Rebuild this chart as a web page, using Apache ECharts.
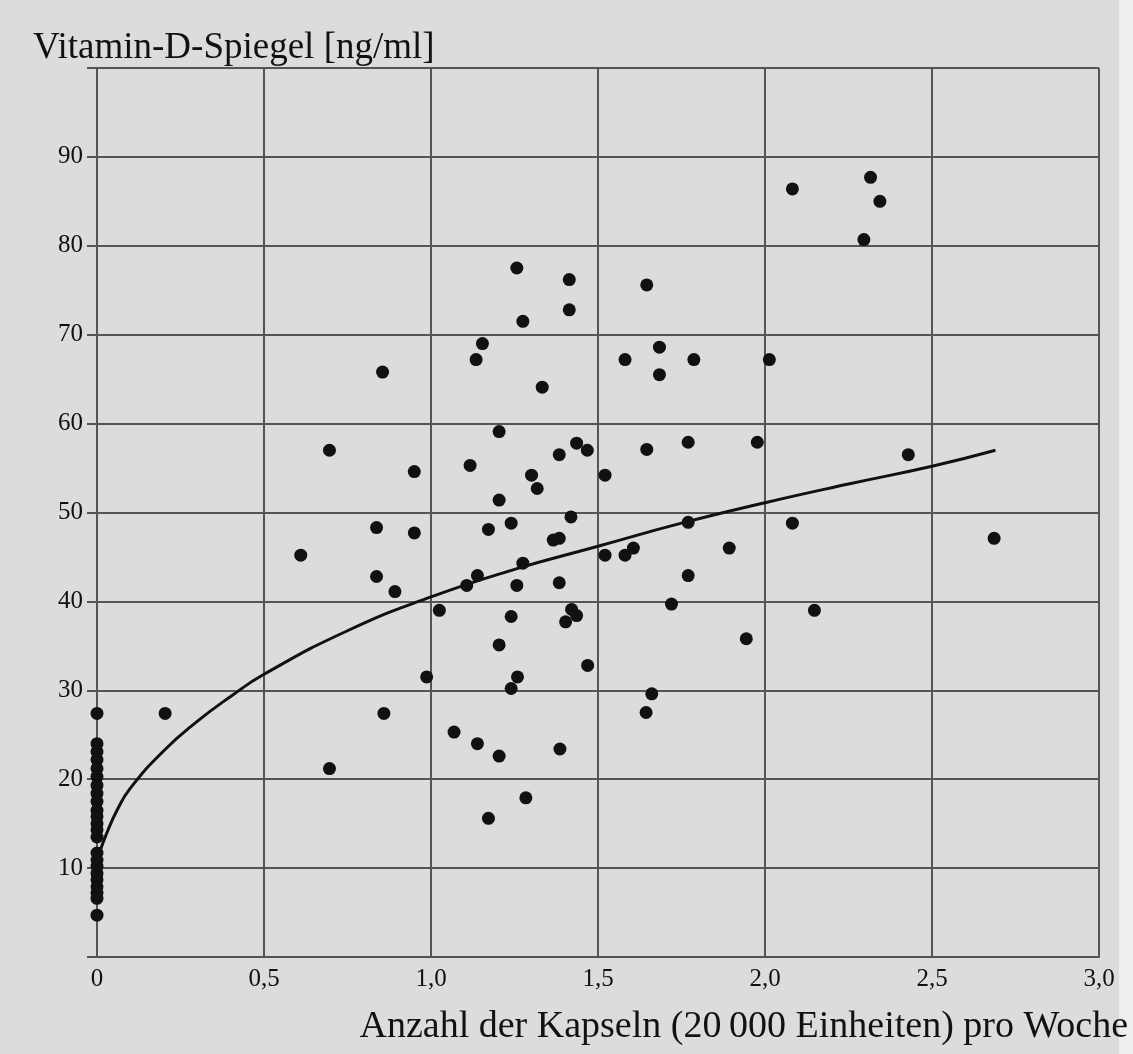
<!DOCTYPE html>
<html>
<head>
<meta charset="utf-8">
<script src="https://cdn.jsdelivr.net/npm/echarts@6/dist/echarts.min.js"></script>
<style>
    html, body { margin: 0; padding: 0; background: #dcdcdc; }
    #chart { width: 1133px; height: 1054px; }
</style>
</head>
<body>
<div id="chart"></div>
<script>
// Werte bei 0 Kapseln (Spalte am linken Rand)
var zeroDoseLevels = [27.4, 24.0, 23.1, 22.2, 21.2, 20.3, 19.3, 18.4, 17.5, 16.5, 15.8, 15.0,
    14.3, 13.5, 11.7, 10.9, 10.2, 9.4, 8.7, 7.9, 7.2, 6.6, 4.7];

// übrige Messpunkte: Kapseln pro Woche / Spiegel
var doses = [0.204, 0.610, 0.696, 0.696, 0.837, 0.837, 0.855, 0.859, 0.892, 0.950, 0.950, 0.987,
    1.025, 1.069, 1.107, 1.117, 1.135, 1.139, 1.139, 1.154, 1.172, 1.172, 1.204, 1.204,
    1.204, 1.204, 1.240, 1.240, 1.240, 1.257, 1.257, 1.259, 1.275, 1.275, 1.284, 1.301,
    1.318, 1.333, 1.366, 1.384, 1.384, 1.384, 1.386, 1.403, 1.414, 1.414, 1.419, 1.421,
    1.436, 1.436, 1.468, 1.469, 1.521, 1.521, 1.581, 1.581, 1.606, 1.646, 1.646, 1.644,
    1.661, 1.684, 1.684, 1.720, 1.770, 1.770, 1.770, 1.787, 1.893, 1.944, 1.977, 2.013,
    2.082, 2.082, 2.148, 2.296, 2.316, 2.344, 2.429, 2.686];
var levels = [27.4, 45.2, 57.0, 21.2, 48.3, 42.8, 65.8, 27.4, 41.1, 54.6, 47.7, 31.5,
    39.0, 25.3, 41.8, 55.3, 67.2, 42.9, 24.0, 69.0, 48.1, 15.6, 59.1, 51.4,
    35.1, 22.6, 48.8, 38.3, 30.2, 77.5, 41.8, 31.5, 71.5, 44.3, 17.9, 54.2,
    52.7, 64.1, 46.9, 47.1, 56.5, 42.1, 23.4, 37.7, 76.2, 72.8, 49.5, 39.1,
    38.4, 57.8, 57.0, 32.8, 54.2, 45.2, 67.2, 45.2, 46.0, 75.6, 57.1, 27.5,
    29.6, 68.6, 65.5, 39.7, 57.9, 48.9, 42.9, 67.2, 46.0, 35.8, 57.9, 67.2,
    86.4, 48.8, 39.0, 80.7, 87.7, 85.0, 56.5, 47.1];

var curveDose  = [0, 0.01, 0.03, 0.06, 0.1, 0.2, 0.3, 0.4, 0.5, 0.75, 1.0, 1.25, 1.5, 1.75, 2.0, 2.25, 2.5, 2.69];
var curveLevel = [10.5, 12.0, 14.0, 16.5, 19.0, 23.2, 26.5, 29.3, 31.8, 36.7, 40.5, 43.6, 46.2, 48.8, 51.1, 53.2, 55.2, 57.0];

var SERIF = 'Liberation Serif';
var LINE = '#555';
var INK = '#111';

var chart = echarts.init(document.getElementById('chart'));

var dots = zeroDoseLevels.map(function (v) { return [0, v]; });
for (var i = 0; i < doses.length; i++) {
    dots.push([doses[i], levels[i]]);
}
var curve = curveDose.map(function (d, i) { return [d, curveLevel[i]]; });

chart.setOption({
    backgroundColor: '#dcdcdc',
    animation: false,
    title: [{
        text: 'Vitamin-D-Spiegel [ng/ml]',
        left: 33, top: 30, padding: 0,
        textStyle: { fontFamily: SERIF, fontSize: 37, fontWeight: 'normal', color: INK }
    }, {
        text: 'Anzahl der Kapseln (20\u2009000 Einheiten) pro Woche',
        right: 5, top: 1008, padding: 0,
        textStyle: { fontFamily: SERIF, fontSize: 38, fontWeight: 'normal', color: INK }
    }],
    graphic: [{
        type: 'rect', left: 1119, top: 0, silent: true,
        shape: { width: 14, height: 1054 },
        style: { fill: '#efefef' }
    }],
    grid: { left: 97, right: 34, top: 68, bottom: 97 },
    xAxis: {
        type: 'value', min: 0, max: 3, interval: 0.5,
        axisLine: { show: true, lineStyle: { color: LINE, width: 2 } },
        axisTick: { show: false },
        splitLine: { show: true, lineStyle: { color: LINE, width: 2 } },
        axisLabel: {
            margin: 10, fontFamily: SERIF, fontSize: 25, color: INK,
            formatter: function (v) { return v === 0 ? '0' : v.toFixed(1).replace('.', ','); }
        }
    },
    yAxis: {
        type: 'value', min: 0, max: 100, interval: 10,
        axisLine: { show: true, lineStyle: { color: LINE, width: 2 } },
        axisTick: { show: true, length: 10, lineStyle: { color: LINE, width: 2 } },
        splitLine: { show: true, lineStyle: { color: LINE, width: 2 } },
        axisLabel: {
            margin: 14, fontFamily: SERIF, fontSize: 25, color: INK,
            formatter: function (v) { return (v === 0 || v === 100) ? '' : String(v); }
        }
    },
    series: [{
        type: 'line',
        data: curve,
        smooth: true,
        showSymbol: false,
        lineStyle: { color: INK, width: 3 },
        z: 3
    }, {
        type: 'scatter',
        data: dots,
        symbol: 'circle',
        symbolSize: 13,
        itemStyle: { color: INK, opacity: 1 },
        z: 4
    }]
});
</script>
</body>
</html>
